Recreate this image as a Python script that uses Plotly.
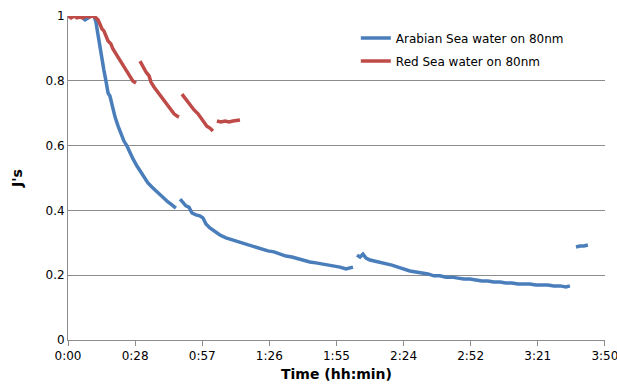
import plotly.graph_objects as go

# Elapsed time in minutes; None separates recording runs
arabian_t = [0, 1.7, 3.4, 5.1, 6.4, 7.3, 8.6, 9.9, 11.2, 12.0, 12.9, 13.7, 14.6, 15.4, 16.3, 16.7, 17.2,
             18.0, 18.9, 20.2, 21.5, 22.7, 24.0, 25.3, 26.6, 27.9, 29.6, 30.9, 32.6, 34.3, 36.0, 37.8,
             39.5, 41.2, 42.9, 44.6, 46.3,
             None,
             48.1, 49.3, 50.6, 51.9, 53.2, 54.9, 56.6, 57.9, 59.2, 60.9, 63.1, 65.2, 67.8, 70.4, 72.9,
             75.5, 78.1, 80.7, 83.2, 85.8, 88.4, 91.0, 93.5, 96.1, 98.7, 101.3, 103.8, 106.4, 109.0,
             111.6, 114.1, 116.7, 119.3, 121.0, 122.3,
             None,
             124.0, 125.3, 126.6, 127.9, 129.6, 131.7, 133.9, 136.4, 139.0, 141.6, 144.2, 146.7, 149.3,
             151.9, 154.5, 157.0, 159.6, 162.2, 164.8, 167.3, 169.9, 172.5, 175.1, 177.6, 180.2, 182.8,
             185.4, 187.9, 190.5, 193.1, 195.6, 198.2, 200.8, 203.4, 205.9, 208.5, 211.1, 213.7, 215.4,
             None,
             218.0, 219.7, 221.4, 223.1]
arabian_j = [1.006, 1.006, 1.003, 1.0, 0.994, 0.988, 0.994, 1.0, 1.0, 0.981, 0.941, 0.901, 0.864, 0.833,
             0.799, 0.778, 0.762, 0.753, 0.722, 0.688, 0.660, 0.636, 0.614, 0.599, 0.577, 0.559, 0.537,
             0.522, 0.500, 0.485, 0.472, 0.460, 0.448, 0.435, 0.426, 0.417, 0.407,
             None,
             0.435, 0.426, 0.414, 0.410, 0.392, 0.386, 0.383, 0.377, 0.358, 0.346, 0.333, 0.324, 0.315,
             0.309, 0.302, 0.296, 0.290, 0.284, 0.281, 0.275, 0.272, 0.265, 0.259, 0.256, 0.250, 0.244,
             0.241, 0.238, 0.235, 0.231, 0.228, 0.225, 0.219, 0.222, 0.225,
             None,
             0.262, 0.256, 0.265, 0.253, 0.247, 0.244, 0.241, 0.235, 0.231, 0.225, 0.219, 0.213, 0.210,
             0.207, 0.204, 0.198, 0.198, 0.194, 0.194, 0.191, 0.188, 0.188, 0.185, 0.182, 0.182, 0.179,
             0.179, 0.176, 0.176, 0.173, 0.173, 0.173, 0.170, 0.170, 0.170, 0.167, 0.167, 0.164, 0.167,
             None,
             0.287, 0.290, 0.290, 0.293]

red_t = [0, 1.3, 2.6, 3.9, 5.1, 6.4, 7.7, 9.0, 10.3, 11.6, 12.9, 13.7, 14.6, 15.4, 16.3, 17.2, 18.4,
         19.3, 20.6, 21.9, 23.2, 24.5, 25.7, 27.0, 27.9, 29.2,
         None,
         30.9, 32.2, 33.5, 34.8, 35.6, 36.9, 38.2, 39.5, 41.2, 42.5, 44.2, 45.5, 46.8, 47.6,
         None,
         48.9, 50.2, 51.5, 52.8, 54.1, 55.8, 57.1, 58.4, 59.6, 60.9, 62.2,
         None,
         63.9, 65.6, 67.4, 69.1, 70.8, 72.5, 73.8]
red_j = [1.0, 0.994, 1.0, 0.994, 0.997, 0.994, 1.0, 0.997, 1.0, 0.997, 0.988, 0.975, 0.960, 0.954, 0.938,
         0.923, 0.914, 0.898, 0.883, 0.867, 0.852, 0.836, 0.824, 0.809, 0.799, 0.793,
         None,
         0.861, 0.843, 0.827, 0.815, 0.796, 0.781, 0.769, 0.753, 0.738, 0.725, 0.710, 0.698, 0.691, 0.688,
         None,
         0.759, 0.747, 0.731, 0.722, 0.710, 0.698, 0.685, 0.673, 0.660, 0.654, 0.645,
         None,
         0.676, 0.673, 0.676, 0.673, 0.676, 0.679, 0.679]

# Axis ticks every 0.02 day (28.8 min), labelled hh:min
x_tick_vals = [0, 28.8, 57.6, 86.4, 115.2, 144.0, 172.8, 201.6, 230.4]
x_tick_text = ["0:00", "0:28", "0:57", "1:26", "1:55", "2:24", "2:52", "3:21", "3:50"]
y_tick_vals = [0, 0.2, 0.4, 0.6, 0.8, 1.0]
y_tick_text = ["0", "0.2", "0.4", "0.6", "0.8", "1"]

FONT = "DejaVu Sans"
GRID = "#8c8c8c"

fig = go.Figure()
fig.add_trace(go.Scatter(x=arabian_t, y=arabian_j, mode="lines", name="Arabian Sea water on 80nm",
                         legendgroup="a", connectgaps=False,
                         line=dict(color="#4a7ebb", width=3.5)))
fig.add_trace(go.Scatter(x=red_t, y=red_j, mode="lines", name="Red Sea water on 80nm",
                         legendgroup="b", connectgaps=False,
                         line=dict(color="#be4b48", width=3.5)))

fig.update_layout(
    width=617, height=384,
    margin=dict(l=68, r=12, t=16, b=44),
    plot_bgcolor="white", paper_bgcolor="white",
    font=dict(family=FONT, size=12, color="#000000"),
    legend=dict(x=0.536, y=0.977, xanchor="left", yanchor="top",
                bgcolor="rgba(255,255,255,0)", font=dict(family=FONT, size=12),
                traceorder="grouped", tracegroupgap=4),
    xaxis=dict(range=[0, 230.45], tickvals=x_tick_vals, ticktext=x_tick_text,
               showgrid=False, zeroline=False, showline=True, linecolor=GRID, linewidth=1,
               ticks="outside", ticklen=5, tickcolor=GRID, automargin=False,
               ticklabeloverflow="allow",
               title=dict(text="<b>Time (hh:min)</b>", font=dict(family=FONT, size=14), standoff=6)),
    yaxis=dict(range=[0, 1.0], tickvals=y_tick_vals, ticktext=y_tick_text,
               showgrid=True, gridcolor=GRID, gridwidth=1, zeroline=False,
               showline=True, linecolor=GRID, linewidth=1, ticks="", automargin=False,
               title=dict(text="<b>J's</b>", font=dict(family=FONT, size=14), standoff=19)),
)

fig.write_html("out.html")
